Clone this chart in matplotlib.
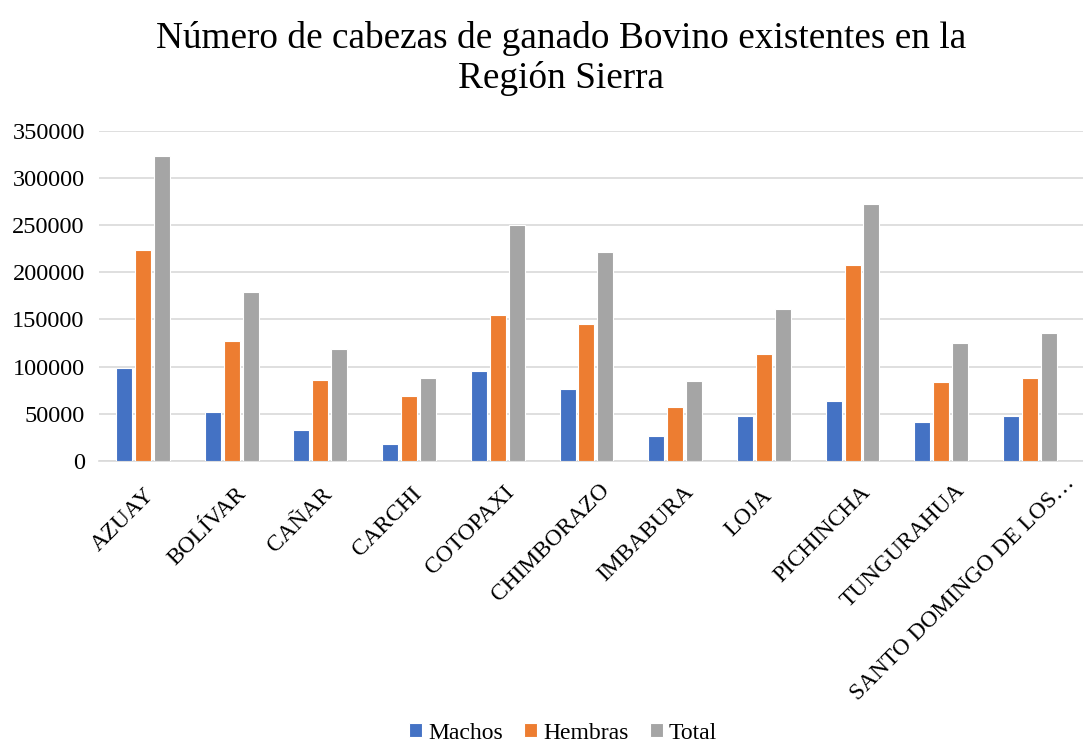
import numpy as np
import matplotlib
matplotlib.use('Agg')
from matplotlib import pyplot as plt
import matplotlib.transforms as mtransforms

provincias = ['AZUAY', 'BOLÍVAR', 'CAÑAR', 'CARCHI', 'COTOPAXI', 'CHIMBORAZO',
              'IMBABURA', 'LOJA', 'PICHINCHA', 'TUNGURAHUA', 'SANTO DOMINGO DE LOS…']
machos = [99000, 51700, 32300, 18400, 95000, 76500, 26600, 47500, 63800, 41100, 47500]
hembras = [223600, 126800, 86100, 68700, 155200, 144900, 57000, 113000, 208300, 83600, 87900]
total = [323500, 179300, 119000, 87900, 250100, 221400, 84300, 160900, 272500, 125100, 135300]

series = [('Machos', machos, '#4472C4'),
          ('Hembras', hembras, '#ED7D31'),
          ('Total', total, '#A5A5A5')]

plt.rcParams['font.family'] = ['Liberation Serif', 'DejaVu Serif']

fig = plt.figure(figsize=(10.83, 7.47), dpi=100)
ax = fig.add_axes([98.6 / 1083, 0.383, 1 - 98.6 / 1083, 0.4417])

x = np.arange(len(provincias))
step = 0.213
for i, (name, vals, color) in enumerate(series):
    ax.bar(x + (i - 1) * step, vals, width=0.18, color=color,
           edgecolor='white', linewidth=0.8, label=name, zorder=3)

ax.set_xlim(-0.5, (1083 - 98.6) / 88.7 - 0.5)
ax.set_ylim(0, 350000)
ax.set_yticks(np.arange(0, 350001, 50000))
ax.set_yticklabels([str(v) for v in range(0, 350001, 50000)], fontsize=17.5)
ax.grid(axis='y', color='#D9D9D9', linewidth=1.2, zorder=0)
for s in ['top', 'right', 'left']:
    ax.spines[s].set_visible(False)
ax.spines['bottom'].set_color('#D9D9D9')
ax.spines['bottom'].set_linewidth(1.2)
ax.tick_params(axis='both', length=0)
ax.tick_params(axis='y', pad=10)
ax.tick_params(axis='x', pad=0)

ax.set_xticks(x)
labels = ax.set_xticklabels(provincias, rotation=45, ha='right',
                            rotation_mode='anchor', fontsize=16.8)

# excel shifts longer rotated labels further along their direction
fig.canvas.draw()
renderer = fig.canvas.get_renderer()
for lab in labels:
    w, h, d = renderer.get_text_width_height_descent(
        lab.get_text(), lab.get_fontproperties(), ismath=False)
    dx = -11 + 0.147 * w
    dy = -(27 - 0.051 * w)
    off = mtransforms.ScaledTranslation(dx / 100, dy / 100, fig.dpi_scale_trans)
    lab.set_transform(lab.get_transform() + off)

fig.suptitle('Número de cabezas de ganado Bovino existentes en la\nRegión Sierra',
             fontsize=26.8, x=0.518, y=0.972, linespacing=1.18)

fig.legend(loc='lower center', ncol=3, frameon=False, fontsize=17,
           bbox_to_anchor=(0.52, -0.024), handlelength=0.55, handleheight=0.55,
           handletextpad=0.25, columnspacing=0.9)

fig.savefig('out.png', dpi=100)
